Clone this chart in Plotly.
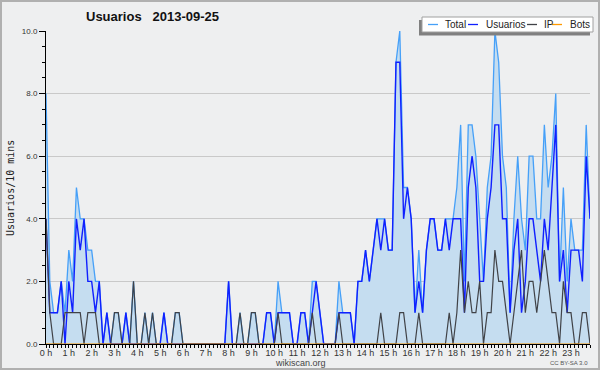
import plotly.graph_objects as go

# ---------------- data (10-minute samples, 2013-09-25) ----------------
hours = list(range(24))
hour_labels = [f"{h} h" for h in hours]

total = [
    8, 2, 1, 1, 2, 1, 3, 2, 5, 4,   4, 3, 3, 2, 2, 0, 1, 0, 1, 1,
    0, 1, 0, 2, 0, 0, 1, 0, 1, 0,   0, 1, 0, 0, 1, 1, 0, 0, 0, 0,
    0, 0, 0, 0, 0, 0, 0, 0, 2, 0,   0, 1, 0, 0, 1, 1, 0, 0, 1, 1,
    0, 2, 1, 1, 1, 0, 0, 1, 1, 0,   2, 2, 1, 0, 0, 0, 0, 2, 1, 1,
    1, 0, 2, 2, 3, 2, 3, 4, 4, 4,   3, 3, 9, 10, 5, 5, 4, 1, 3, 1,
    3, 4, 4, 3, 3, 4, 4, 4, 5, 7,   2, 7, 7, 6, 4, 2, 5, 6, 10, 9,
    6, 5, 1, 4, 6, 4, 3, 6, 6, 4,   4, 7, 5, 6, 8, 2, 5, 2, 4, 3,
    3, 3, 7, 4,
]

usuarios = [
    4, 1, 1, 1, 2, 0, 2, 1, 4, 3,   4, 2, 2, 1, 2, 0, 1, 0, 0, 0,
    0, 1, 0, 0, 0, 0, 0, 0, 0, 0,   0, 1, 0, 0, 0, 0, 0, 0, 0, 0,
    0, 0, 0, 0, 0, 0, 0, 0, 2, 0,   0, 0, 0, 0, 0, 0, 0, 0, 1, 1,
    0, 1, 1, 1, 1, 0, 0, 1, 1, 0,   1, 2, 1, 0, 0, 0, 0, 1, 1, 1,
    1, 0, 2, 2, 3, 2, 3, 4, 3, 4,   3, 3, 9, 9, 4, 5, 4, 1, 2, 1,
    3, 4, 4, 3, 3, 4, 3, 4, 4, 4,   1, 5, 6, 5, 2, 2, 4, 5, 7, 7,
    4, 4, 1, 3, 4, 1, 2, 4, 4, 3,   2, 4, 3, 5, 7, 2, 3, 1, 3, 3,
    3, 2, 6, 4,
]

ip = [
    4, 1, 0, 0, 0, 1, 1, 1, 1, 1,   0, 1, 1, 1, 0, 0, 0, 0, 1, 1,
    0, 0, 0, 2, 0, 0, 1, 0, 1, 0,   0, 0, 0, 0, 1, 1, 0, 0, 0, 0,
    0, 0, 0, 0, 0, 0, 0, 0, 0, 0,   0, 1, 0, 0, 1, 1, 0, 0, 0, 0,
    0, 1, 0, 0, 0, 0, 0, 0, 0, 0,   1, 0, 0, 0, 0, 0, 0, 1, 0, 0,
    0, 0, 0, 0, 0, 0, 0, 0, 1, 0,   0, 0, 0, 1, 1, 0, 0, 0, 1, 0,
    0, 0, 0, 0, 0, 0, 1, 0, 1, 3,   1, 2, 1, 1, 2, 0, 1, 1, 3, 2,
    2, 1, 0, 1, 2, 3, 1, 2, 2, 1,   2, 3, 2, 1, 1, 0, 2, 1, 1, 0,
    0, 1, 1, 0,
]

bots = [
    0, 0, 0, 0, 0, 0, 0, 0, 0, 0,   0, 0, 0, 0, 0, 0, 0, 0, 0, 0,
    0, 0, 0, 0, 0, 0, 0, 0, 0, 0,   0, 0, 0, 0, 0, 0, 0, 0, 0, 0,
    0, 0, 0, 0, 0, 0, 0, 0, 0, 0,   0, 0, 0, 0, 0, 0, 0, 0, 0, 0,
    0, 0, 0, 0, 0, 0, 0, 0, 0, 0,   0, 0, 0, 0, 0, 0, 0, 0, 0, 0,
    0, 0, 0, 0, 0, 0, 0, 0, 0, 0,   0, 0, 0, 0, 0, 0, 0, 0, 0, 0,
    0, 0, 0, 0, 0, 0, 0, 0, 0, 0,   0, 0, 0, 0, 0, 0, 0, 0, 0, 0,
    0, 0, 0, 0, 0, 0, 0, 0, 0, 0,   0, 0, 0, 0, 0, 0, 0, 0, 0, 0,
    0, 0, 0, 0,
]

times = [i / 6 for i in range(len(total))]  # hours

# ---------------- styling ----------------
C_TOTAL = "#46a0f8"
C_FILL = "#c5ddf0"
C_USR = "#1020ff"
C_IP = "#404247"
C_BOTS = "#ff9900"
BG = "#eeeff0"

W, H = 600, 370
ML, MR, MT, MB = 46, 10, 31, 26
PW, PH = W - ML - MR, H - MT - MB


def px(x):
    return (x - ML) / PW


def py(y):
    return (H - MB - y) / PH


fig = go.Figure()
fig.add_trace(go.Scatter(x=times, y=total, mode="lines", name="Total",
                         line=dict(color=C_TOTAL, width=1.3),
                         fill="tozeroy", fillcolor=C_FILL, showlegend=False))
fig.add_trace(go.Scatter(x=times, y=usuarios, mode="lines", name="Usuarios",
                         line=dict(color=C_USR, width=1.4), showlegend=False))
fig.add_trace(go.Scatter(x=times, y=ip, mode="lines", name="IP",
                         line=dict(color=C_IP, width=1.2), showlegend=False))
fig.add_trace(go.Scatter(x=times, y=bots, mode="lines", name="Bots",
                         line=dict(color=C_BOTS, width=1), showlegend=False))

# manual legend (box with drop shadow)
shapes = [
    dict(type="rect", xref="paper", yref="paper", x0=px(419), x1=px(590),
         y0=py(35.5), y1=py(20), fillcolor="#808080", line=dict(width=0)),
    dict(type="rect", xref="paper", yref="paper", x0=px(422), x1=px(593),
         y0=py(32), y1=py(17), fillcolor="white", line=dict(color="#a0a0a0", width=1)),
]
legend_items = [("Total", C_TOTAL, 428, 443), ("Usuarios", C_USR, 468, 484),
                ("IP", C_IP, 527, 542), ("Bots", C_BOTS, 552, 568)]
annotations = []
for name, col, lx, tx in legend_items:
    shapes.append(dict(type="line", xref="paper", yref="paper", x0=px(lx), x1=px(lx + 10),
                       y0=py(24.5), y1=py(24.5), line=dict(color=col, width=1.3)))
    annotations.append(dict(text=name, xref="paper", yref="paper", x=px(tx), y=py(24.5),
                            xanchor="left", yanchor="middle", showarrow=False,
                            font=dict(family="Liberation Sans", size=10, color="#222")))
# outer frame
shapes.append(dict(type="rect", xref="paper", yref="paper", x0=px(1), x1=px(599),
                   y0=py(369), y1=py(1), line=dict(color="#b0b0b0", width=2)))

annotations += [
    dict(text="Usuarios/10 mins", xref="paper", yref="paper", x=px(10), y=py(188),
         xanchor="center", yanchor="middle", textangle=-90, showarrow=False,
         font=dict(family="DejaVu Sans Mono", size=10, color="#222")),
    dict(text="wikiscan.org", xref="paper", yref="paper", x=px(300), y=py(362.5),
         xanchor="center", yanchor="middle", showarrow=False,
         font=dict(family="Liberation Sans", size=9, color="#444")),
    dict(text="CC BY-SA 3.0", xref="paper", yref="paper", x=px(590), y=py(363),
         xanchor="right", yanchor="middle", showarrow=False,
         font=dict(family="Liberation Sans", size=6, color="#555")),
]

fig.update_layout(
    width=W, height=H,
    margin=dict(l=ML, r=MR, t=MT, b=MB, pad=0),
    paper_bgcolor=BG, plot_bgcolor=BG,
    title=dict(text="Usuarios\u00a0\u00a0\u00a02013-09-25", x=86 / W, xanchor="left",
               xref="container", y=1 - 16 / H, yref="container", yanchor="middle",
               font=dict(family="Liberation Sans", size=13, color="#111", weight="bold")),
    shapes=shapes, annotations=annotations, showlegend=False,
    xaxis=dict(range=[0, times[-1]], tickmode="array", tickvals=hours, ticktext=hour_labels,
               showgrid=False, zeroline=False, showline=True, linecolor="black", linewidth=1,
               ticks="outside", ticklen=3, tickcolor="black", tickwidth=1,
               ticklabelstandoff=-3,
               minor=dict(dtick=1 / 6, tick0=0, ticks="outside", ticklen=3,
                          tickcolor="black", tickwidth=1, showgrid=False),
               tickfont=dict(family="Liberation Sans", size=9, color="#333"),
               layer="above traces", fixedrange=True),
    yaxis=dict(range=[0, 10], dtick=2, tick0=0, tickformat=".1f",
               showgrid=True, gridcolor="#c9c9c9", gridwidth=1, zeroline=False,
               showline=True, linecolor="black", linewidth=1,
               ticks="outside", ticklen=6, tickcolor="black", tickwidth=1,
               minor=dict(dtick=0.5, ticks="outside", ticklen=3, tickcolor="black",
                          tickwidth=1, showgrid=False),
               tickfont=dict(family="Liberation Sans", size=8, color="#333"),
               layer="above traces", fixedrange=True),
)

fig.write_html("out.html", config={"displayModeBar": False},
               post_script="document.body.style.margin='0';document.body.style.overflow='hidden';")
